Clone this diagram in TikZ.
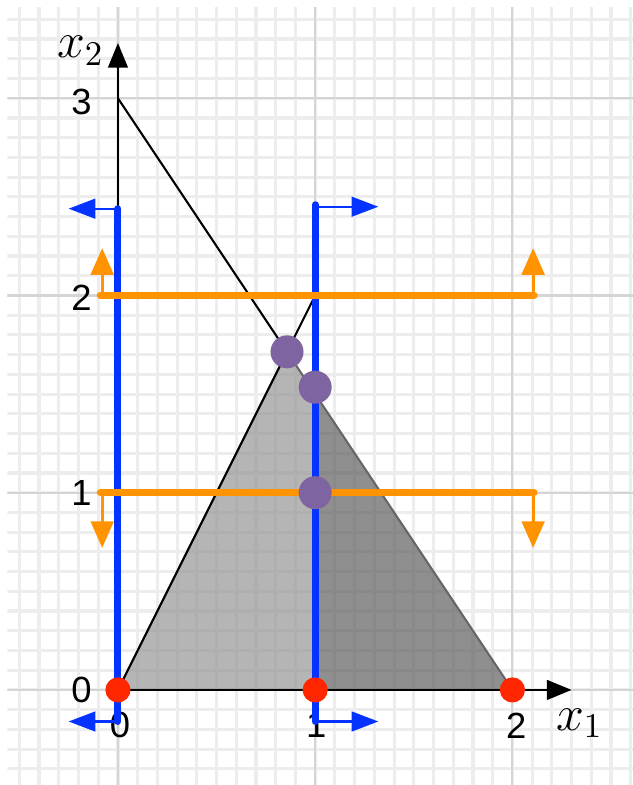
\documentclass[tikz,border=0pt]{standalone}
\usepackage{fontspec}
\setsansfont{Liberation Sans}
\usetikzlibrary{arrows.meta}
\definecolor{cblue}{HTML}{0432FF}
\definecolor{corange}{HTML}{FF9300}
\definecolor{cred}{HTML}{FF2600}
\definecolor{cpurple}{HTML}{7E64A0}
\definecolor{gminor}{HTML}{EDEDED}
\definecolor{gmajor}{HTML}{D5D5D5}
\definecolor{flight}{HTML}{959595}
\definecolor{fdark}{HTML}{5F5F5F}
\tikzset{
  minorgrid/.style={draw=gminor, line width=0.9pt},
  majorgrid/.style={draw=gmajor, line width=0.6pt},
  axisline/.style={draw=black, line width=0.6pt, -{Triangle[length=0.25cm,width=0.2cm]}},
  blackline/.style={draw=black, line width=0.6pt},
  bluebar/.style={draw=cblue, line width=2pt, line cap=round},
  bluestub/.style={draw=cblue, line width=0.6pt, -{Triangle[length=0.27cm,width=0.2cm]}},
  orangebar/.style={draw=corange, line width=2pt, line cap=round},
  orangestub/.style={draw=corange, line width=0.9pt, -{Triangle[length=0.27cm,width=0.23cm]}},
  ticklabel/.style={font=\sffamily\fontsize{10.5}{12}\selectfont, inner sep=0pt},
  axislabel/.style={font=\fontsize{14}{15}\selectfont, inner sep=0pt},
  reddot/.style={circle, fill=cred, minimum size=0.255cm, inner sep=0pt},
  purpledot/.style={circle, fill=cpurple, minimum size=0.335cm, inner sep=0pt},
}
\begin{document}
\begin{tikzpicture}[x=2cm,y=2cm]
\useasboundingbox (-0.598,-0.482) rectangle (2.611,3.498);
% grid
\begin{scope}
\clip (-0.56,-0.482) rectangle (2.611,3.46);
\foreach \i in {-5,...,26} {\draw[minorgrid] (\i/10,-0.6) -- (\i/10,3.6);}
\foreach \j in {-5,...,35} {\draw[minorgrid] (-0.7,\j/10) -- (2.7,\j/10);}
\foreach \i in {0,1,2} {\draw[majorgrid] (\i,-0.6) -- (\i,3.6);}
\foreach \j in {0,1,2,3} {\draw[majorgrid] (-0.7,\j) -- (2.7,\j);}
\end{scope}
% key points
\coordinate (O) at (0,0);
\coordinate (A) at (6/7,12/7);
\coordinate (B) at (1,1.5);
\coordinate (Bd) at (1,1.535);
\coordinate (C) at (1,0);
\coordinate (D) at (2,0);
\coordinate (E) at (1,1);
\coordinate (T) at (0,3);
\coordinate (F) at (1,2);
% feasible region
\fill[flight, fill opacity=0.7] (O) -- (A) -- (B) -- (C) -- cycle;
\fill[fdark, fill opacity=0.7] (C) -- (B) -- (D) -- cycle;
\draw[black!60, line width=0.6pt, line join=round] (O) -- (A) -- (D) -- cycle;
% axes
\coordinate (X1end) at (2.30,0);
\coordinate (X2end) at (0,3.28);
\draw[axisline] (O) -- (X1end);
\draw[axisline] (O) -- (X2end);
% constraint lines
\draw[blackline] (T) -- (A);
\draw[blackline] (O) -- (F);
% labels
\node[axislabel] (lx2) at (-0.19,3.24) {$x_2$};
\node[axislabel] (lx1) at (2.34,-0.17) {$x_1$};
\node[ticklabel, anchor=east] (ly0) at (-0.13,0) {0};
\node[ticklabel, anchor=east] (ly1) at (-0.13,1) {1};
\node[ticklabel, anchor=east] (ly2) at (-0.13,1.99) {2};
\node[ticklabel, anchor=east] (ly3) at (-0.13,2.98) {3};
\node[ticklabel] (lxa) at (0.01,-0.18) {0};
\node[ticklabel] (lxb) at (1.005,-0.18) {1};
\node[ticklabel] (lxc) at (2.02,-0.18) {2};
% blue constraints
\coordinate (b0b) at (0,-0.16);
\coordinate (b0t) at (0,2.44);
\coordinate (b0bt) at (-0.25,-0.16);
\coordinate (b0tt) at (-0.25,2.44);
\draw[bluebar] (b0b) -- (b0t);
\draw[bluestub] (b0t) -- (b0tt);
\draw[bluestub] (b0b) -- (b0bt);
\coordinate (b1b) at (1,-0.16);
\coordinate (b1t) at (1,2.46);
\coordinate (b1s) at (1,2.45);
\coordinate (b1bt) at (1.32,-0.16);
\coordinate (b1tt) at (1.32,2.45);
\draw[bluebar] (b1b) -- (b1t);
\draw[bluestub] (b1s) -- (b1tt);
\draw[bluestub] (b1b) -- (b1bt);
% orange constraints
\coordinate (o2l) at (-0.09,2);
\coordinate (o2r) at (2.11,2);
\coordinate (o1l) at (-0.09,1);
\coordinate (o1r) at (2.11,1);
\draw[orangebar] (o2l) -- (o2r);
\draw[orangebar] (o1l) -- (o1r);
\draw[orangestub] (-0.08,2) -- (-0.08,2.24);
\draw[orangestub] (2.105,2) -- (2.105,2.24);
\draw[orangestub] (-0.08,1) -- (-0.08,0.72);
\draw[orangestub] (2.105,1) -- (2.105,0.72);
% points
\node[reddot] (p1) at (O) {};
\node[reddot] (p2) at (C) {};
\node[reddot] (p3) at (D) {};
\node[purpledot] (q1) at (A) {};
\node[purpledot] (q2) at (Bd) {};
\node[purpledot] (q3) at (E) {};
\end{tikzpicture}
\end{document}
